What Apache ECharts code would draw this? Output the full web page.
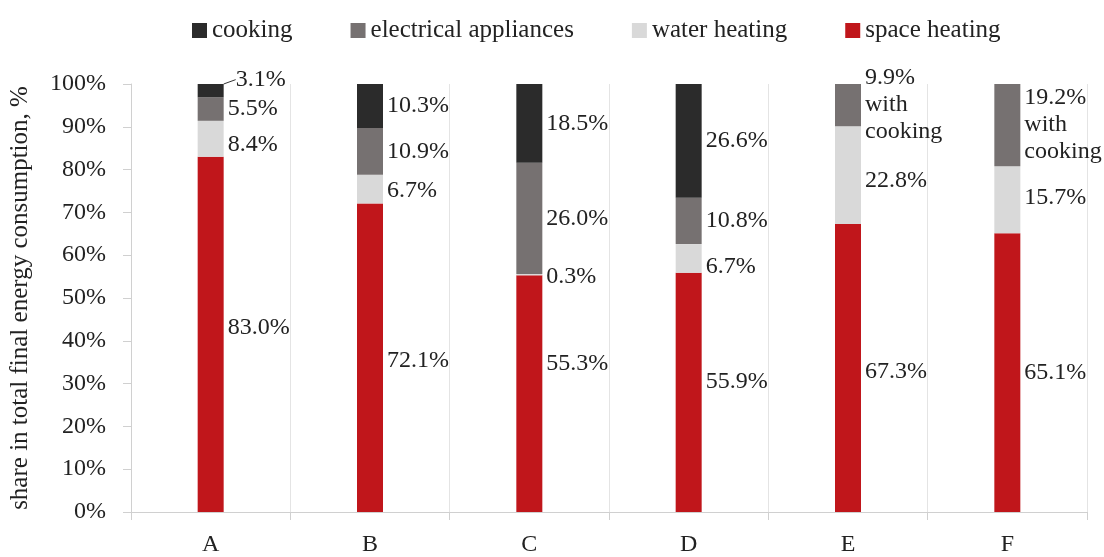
<!DOCTYPE html>
<html>
<head>
<meta charset="utf-8">
<script src="https://cdn.jsdelivr.net/npm/echarts@6/dist/echarts.min.js"></script>
<style>html,body{margin:0;padding:0;background:#fff}#c{width:1104px;height:557px}</style>
</head>
<body>
<div id="c"></div>
<script>
var categories = ['A', 'B', 'C', 'D', 'E', 'F'];
var spaceHeating = [83.0, 72.1, 55.3, 55.9, 67.3, 65.1];
var waterHeating = [8.4, 6.7, 0.3, 6.7, 22.8, 15.7];
var electrical = [5.5, 10.9, 26.0, 10.8, 9.9, 19.2];
var cooking = [3.1, 10.3, 18.5, 26.6, 0, 0];
var electricalNotes = ['', '', '', '', 'with\ncooking', 'with\ncooking'];
var yTicks = [0, 10, 20, 30, 40, 50, 60, 70, 80, 90, 100];

// label nudges (pixels), kept apart from the data
var spaceLabelShift = [-7, 3, -30, -11, 4, 0];
var waterLabelShift = [6, 2, 2, 8, 6, -2];

var FONT = 'Liberation Serif';
var TXT = '#222';

function mkLabel(notes) {
  return {
    show: true,
    position: 'right',
    distance: 4,
    fontFamily: FONT,
    fontSize: 24,
    color: TXT,
    lineHeight: 27,
    formatter: function (p) {
      if (!p.value) return '';
      var s = p.value.toFixed(1) + '%';
      if (notes && notes[p.dataIndex]) s += '\n' + notes[p.dataIndex];
      return s;
    }
  };
}

var defs = [
  { name: 'space heating', data: spaceHeating, color: '#c0161b', shift: spaceLabelShift },
  { name: 'water heating', data: waterHeating, color: '#d9d9d9', shift: waterLabelShift },
  { name: 'electrical appliances', data: electrical, color: '#767171', notes: electricalNotes },
  { name: 'cooking', data: cooking, color: '#2b2b2b' }
];

var series = defs.map(function (s) {
  var o = {
    name: s.name,
    type: 'bar',
    stack: 'total',
    barWidth: 26,
    data: s.data.map(function (v, i) {
      var item = { value: v };
      if (s.name === 'cooking' && i === 0) {
        item.labelLine = { show: true, lineStyle: { color: '#333', width: 1 } };
      }
      return item;
    }),
    itemStyle: { color: s.color },
    label: mkLabel(s.notes),
    labelLine: { show: false },
    emphasis: { disabled: true }
  };
  if (s.shift) {
    o.labelLayout = function (p) { return { dy: s.shift[p.dataIndex] || 0 }; };
  }
  if (s.name === 'cooking') {
    o.labelLayout = function (p) {
      if (p.dataIndex === 0) return { dy: -11, dx: 8 };
      return {};
    };
  }
  return o;
});

var chart = echarts.init(document.getElementById('c'));
chart.setOption({
  animation: false,
  backgroundColor: '#fff',
  textStyle: { fontFamily: FONT },
  legend: {
    data: ['cooking', 'electrical appliances', 'water heating', 'space heating'],
    left: 187,
    top: 13,
    itemWidth: 15,
    itemHeight: 15,
    itemGap: 58,
    icon: 'rect',
    textStyle: { fontFamily: FONT, fontSize: 25, color: TXT }
  },
  grid: { left: 128, right: 17, top: 84, bottom: 40 },
  xAxis: {
    type: 'category',
    data: categories,
    axisLine: { lineStyle: { color: '#d0d0d0' } },
    axisTick: { show: true, length: 8, lineStyle: { color: '#d0d0d0' } },
    splitLine: { show: true, lineStyle: { color: '#e4e4e4' } },
    axisLabel: { fontFamily: FONT, fontSize: 24, color: TXT, margin: 21 }
  },
  yAxis: {
    type: 'value',
    min: yTicks[0],
    max: yTicks[yTicks.length - 1],
    interval: 10,
    name: 'share in total final energy consumption, %',
    nameLocation: 'middle',
    nameGap: 98,
    nameTextStyle: { fontFamily: FONT, fontSize: 25, color: TXT },
    axisLine: { show: true, lineStyle: { color: '#d0d0d0' } },
    axisTick: { show: true, length: 8, lineStyle: { color: '#d0d0d0' } },
    splitLine: { show: false },
    axisLabel: { fontFamily: FONT, fontSize: 24, color: TXT, margin: 25, formatter: '{value}%' }
  },
  series: series
});
</script>
</body>
</html>
